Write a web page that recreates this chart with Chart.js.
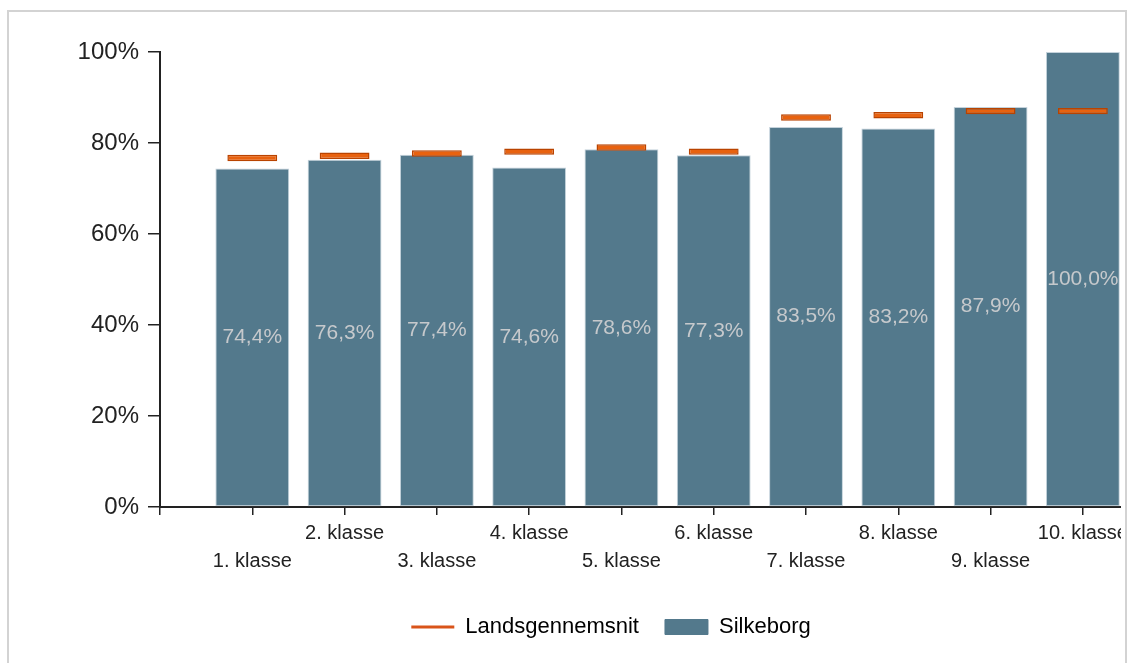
<!DOCTYPE html>
<html>
<head>
<meta charset="utf-8">
<script src="https://cdn.jsdelivr.net/npm/chart.js@4.4.1/dist/chart.umd.min.js"></script>
<style>
  body { margin: 0; background: #fff; }
  #frame { position: absolute; left: 7px; top: 10px; width: 1116px; height: 700px; border: 2px solid #d3d3d3; background: #fff; }
  #clip { position: absolute; left: 0; top: 0; width: 1112px; height: 700px; overflow: hidden; }
  #holder { position: absolute; left: 0; top: 0; width: 1204px; height: 636px; }
</style>
</head>
<body>
<div id="frame"><div id="clip"><div id="holder"><canvas id="chart" width="1204" height="636"></canvas></div></div></div>
<script>
// Kategorier og værdier
var klasser = ["1. klasse", "2. klasse", "3. klasse", "4. klasse", "5. klasse", "6. klasse", "7. klasse", "8. klasse", "9. klasse", "10. klasse"];
var silkeborg = [74.4, 76.3, 77.4, 74.6, 78.6, 77.3, 83.5, 83.2, 87.9, 100.0];
var landsgennemsnit = [76.7, 77.2, 77.7, 78.1, 79.0, 78.1, 85.6, 86.1, 87.0, 87.0];
var yTicks = [0, 20, 40, 60, 80, 100];

var barColor = "#53798c";
var orange = "#e8620f";
var orangeDark = "#b94300";

// Tekst midt i søjlerne
var barLabels = {
    id: "barLabels",
    afterDatasetsDraw: function (chart) {
        var ctx = chart.ctx;
        var meta = chart.getDatasetMeta(1);
        ctx.save();
        ctx.font = "21px 'Liberation Sans', Arial, sans-serif";
        ctx.fillStyle = "#c6c9cc";
        ctx.textAlign = "center";
        ctx.textBaseline = "middle";
        meta.data.forEach(function (el, i) {
            var txt = silkeborg[i].toFixed(1).replace(".", ",") + "%";
            ctx.fillText(txt, el.x, (el.y + el.base) / 2);
        });
        ctx.restore();
    }
};

var ctx = document.getElementById("chart").getContext("2d");
new Chart(ctx, {
    type: "bar",
    data: {
        datasets: [{
            label: "Landsgennemsnit",
            data: landsgennemsnit.map(function (v, i) { return { x: i + 1, y: [v - 0.7, v + 0.7] }; }),
            backgroundColor: orange,
            borderColor: orangeDark,
            borderWidth: 1.5,
            borderSkipped: false,
            grouped: false,
            categoryPercentage: 1,
            barPercentage: 0.54,
            order: 0
        }, {
            label: "Silkeborg",
            data: silkeborg.map(function (v, i) { return { x: i + 1, y: v }; }),
            backgroundColor: barColor,
            borderColor: "rgba(190,205,215,0.9)",
            borderWidth: 1,
            borderSkipped: false,
            grouped: false,
            categoryPercentage: 1,
            barPercentage: 0.8,
            order: 1
        }]
    },
    options: {
        responsive: false,
        animation: false,
        layout: { padding: { top: 40, right: 0, left: 0, bottom: 0 } },
        plugins: {
            tooltip: { enabled: false },
            legend: {
                position: "bottom",
                labels: {
                    usePointStyle: true,
                    pointStyleWidth: 43,
                    boxHeight: 15,
                    padding: 26,
                    color: "#222",
                    font: { size: 22, family: "'Liberation Sans', Arial, sans-serif" },
                    generateLabels: function () {
                        return [
                            { text: "Landsgennemsnit", pointStyle: "line", strokeStyle: "#d9541a", fillStyle: "#d9541a", lineWidth: 3, datasetIndex: 0 },
                            { text: "Silkeborg", pointStyle: "rect", strokeStyle: barColor, fillStyle: barColor, lineWidth: 1, datasetIndex: 1 }
                        ];
                    }
                }
            }
        },
        scales: {
            x: {
                type: "linear",
                min: 0,
                max: 11.41,
                offset: false,
                afterBuildTicks: function (s) {
                    s.ticks = [0].concat(klasser.map(function (k, i) { return i + 1; })).map(function (v) { return { value: v }; });
                },
                afterFit: function (s) { s.height = 83; },
                grid: { display: true, offset: false, drawOnChartArea: false, drawTicks: true, tickLength: 8, color: "#222", lineWidth: 1.5 },
                border: { display: true, color: "#222", width: 2 },
                ticks: {
                    autoSkip: false,
                    maxRotation: 0,
                    padding: 4,
                    color: "#222",
                    font: { size: 20, family: "'Liberation Sans', Arial, sans-serif", lineHeight: 1.4 },
                    callback: function (v) {
                        if (v < 1 || v > klasser.length) return "";
                        var k = klasser[v - 1];
                        return v % 2 === 1 ? ["", k] : [k];
                    }
                }
            },
            y: {
                min: 0,
                max: 100,
                afterBuildTicks: function (s) {
                    s.ticks = yTicks.map(function (v) { return { value: v }; });
                },
                afterFit: function (s) { s.width = 151; },
                grid: { display: true, drawOnChartArea: false, drawTicks: true, tickLength: 12, color: "#222", lineWidth: 1.5 },
                border: { display: true, color: "#222", width: 2 },
                ticks: {
                    padding: 9,
                    color: "#222",
                    font: { size: 24, family: "'Liberation Sans', Arial, sans-serif" },
                    callback: function (v) { return v + "%"; }
                }
            }
        }
    },
    plugins: [barLabels]
});
</script>
</body>
</html>
